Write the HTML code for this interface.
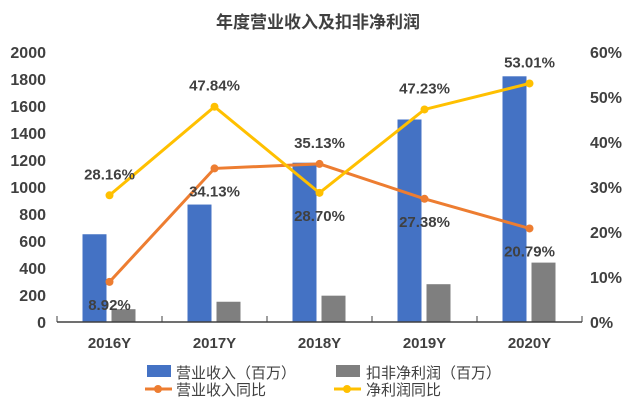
<!DOCTYPE html>
<html><head><meta charset="utf-8"><style>
body{margin:0;background:#fff;}
svg text{font-family:"Liberation Sans","Noto Sans CJK SC",sans-serif;}
</style></head><body>
<svg id="c" width="636" height="408">
<text x="318" y="28" text-anchor="middle" font-size="17" font-weight="bold" fill="#404040">年度营业收入及扣非净利润</text>
<g id="g"></g>
</svg>
<script>
const categories=["2016Y","2017Y","2018Y","2019Y","2020Y"];
const revenue=[650,870,1180,1500,1820];
const profit=[95,150,195,280,440];
const revenueYoy=[8.92,34.13,35.13,27.38,20.79];
const profitYoy=[28.16,47.84,28.70,47.23,53.01];
const leftTicks=[0,200,400,600,800,1000,1200,1400,1600,1800,2000];
const rightTicks=[0,10,20,30,40,50,60];
const revLabelPos=["below","below","above","below","below"];
const profLabelPos=["above","above","below","above","above"];

const X0=57,X1=582,Y0=322,Y1=52;
const g=document.getElementById('g');
const ns="http://www.w3.org/2000/svg";
function el(t,a,txt){const e=document.createElementNS(ns,t);for(const k in a)e.setAttribute(k,a[k]);if(txt!==undefined)e.textContent=txt;g.appendChild(e);return e;}
const bw=(X1-X0)/categories.length;
const xc=i=>X0+bw*(i+0.5);
const yl=v=>Y0-(v/2000)*(Y0-Y1);
const yr=v=>Y0-(v/60)*(Y0-Y1);

leftTicks.forEach(t=>{const e=el('text',{x:46,y:yl(t)+6,'text-anchor':'end','font-size':16,'font-weight':'bold',fill:'#404040'},t);
});
rightTicks.forEach(t=>{const e=el('text',{x:590,y:yr(t)+6,'font-size':16,'font-weight':'bold',fill:'#404040'},t+'%');
});

categories.forEach((c,i)=>{
 let e=el('rect',{x:xc(i)-27,y:yl(revenue[i]),width:24,height:Y0-yl(revenue[i]),fill:'#4472c4'});
 
 e=el('rect',{x:xc(i)+2,y:yl(profit[i]),width:24,height:Y0-yl(profit[i]),fill:'#7f7f7f'});
 
 e=el('text',{x:xc(i),y:348,'text-anchor':'middle','font-size':15,'font-weight':'bold',fill:'#404040'},c);
 
});
let ax=el('line',{x1:X0,y1:Y0,x2:X1,y2:Y0,stroke:'#404040','stroke-width':1.5});

for(let i=0;i<=categories.length;i++){const t=el('line',{x1:X0+bw*i,y1:Y0,x2:X0+bw*i,y2:Y0-6,stroke:'#404040'});
}

function series(vals,color,name,pos){
 const p=el('polyline',{points:vals.map((v,i)=>xc(i)+','+yr(v)).join(' '),fill:'none',stroke:color,'stroke-width':3});
 
 vals.forEach((v,i)=>{
  const c=el('circle',{cx:xc(i),cy:yr(v),r:4,fill:color});
  
  const ly=pos[i]==='above'?yr(v)-16:yr(v)+28;
  const t=el('text',{x:xc(i),y:ly,'text-anchor':'middle','font-size':15,'font-weight':'bold',fill:'#404040'},v.toFixed(2)+'%');
  
 });
}
series(revenueYoy,'#ed7d31','revenue-yoy',revLabelPos);
series(profitYoy,'#ffc000','profit-yoy',profLabelPos);

// legend
let e;
e=el('rect',{x:147,y:365,width:24,height:12,fill:'#4472c4'});
e=el('text',{x:176,y:378,'font-size':15,fill:'#404040'},'营业收入（百万）');
e=el('rect',{x:336,y:365,width:24,height:12,fill:'#7f7f7f'});
e=el('text',{x:366,y:378,'font-size':15,fill:'#404040'},'扣非净利润（百万）');
e=el('line',{x1:145,y1:389,x2:172,y2:389,stroke:'#ed7d31','stroke-width':3});
e=el('circle',{cx:158,cy:389,r:4,fill:'#ed7d31'});
e=el('text',{x:176,y:395,'font-size':15,fill:'#404040'},'营业收入同比');
e=el('line',{x1:334,y1:389,x2:361,y2:389,stroke:'#ffc000','stroke-width':3});
e=el('circle',{cx:347,cy:389,r:4,fill:'#ffc000'});
e=el('text',{x:366,y:395,'font-size':15,fill:'#404040'},'净利润同比');
</script>
</body></html>
